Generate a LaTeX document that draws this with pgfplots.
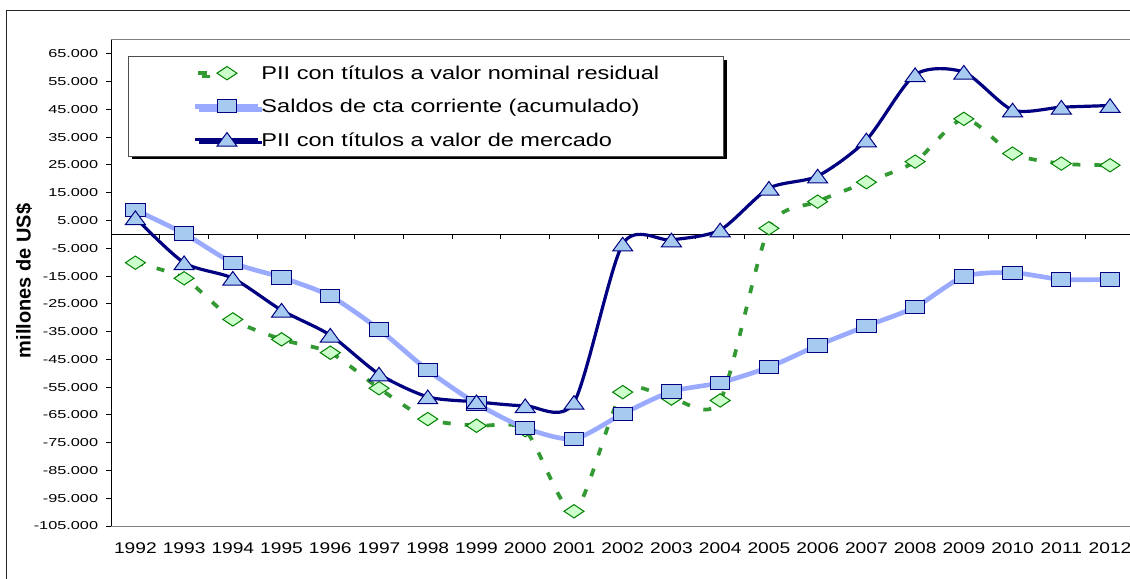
\documentclass[border=0pt]{standalone}
\usepackage{pgfplots}
\pgfplotsset{compat=1.18}
\usepackage{fontspec}
\setmainfont{Liberation Sans}
\newfontfamily\ytfont[FakeStretch=1.42]{Liberation Sans}
\newfontfamily\xtfont[FakeStretch=1.24]{Liberation Sans}
\newfontfamily\legfont[FakeStretch=1.27]{Liberation Sans}
\usetikzlibrary{shadows}
\definecolor{navy}{RGB}{0,0,128}
\definecolor{lblue}{RGB}{166,202,240}
\definecolor{peri}{RGB}{153,170,255}
\definecolor{dgreen}{RGB}{0,128,0}
\definecolor{mgreen}{RGB}{51,153,51}
\definecolor{lgreen}{RGB}{204,255,204}
\pgfplotsset{
  greenleg/.style={legend image code/.code={\draw[##1,solid] (2.25pt,0pt) -- (9pt,0pt); \draw[##1, only marks] plot coordinates {(23.6pt,0pt)}; \path (47.25pt,0pt);}},
  stdleg/.style={legend image code/.code={\draw[mark repeat=2,mark phase=2,##1] plot coordinates {(0pt,0pt) (23.6pt,0pt) (47.25pt,0pt)};}},
}
\begin{document}
\begin{tikzpicture}
\useasboundingbox (0,0) rectangle (847.5pt,433.5pt);
\draw[line width=0.75pt, black!85] (5pt,-30pt) rectangle (880pt,425.5pt);
\begin{axis}[
  at={(83.25pt,39pt)}, anchor=south west,
  width=767.55pt, height=364.5pt, scale only axis,
  xmin=1991.5, xmax=2012.5, ymin=-105000, ymax=70000,
  axis line style={draw=gray, line width=0.75pt},
  xtick={1992,1993,1994,1995,1996,1997,1998,1999,2000,2001,2002,2003,2004,2005,2006,2007,2008,2009,2010,2011,2012},
  xticklabels={1992,1993,1994,1995,1996,1997,1998,1999,2000,2001,2002,2003,2004,2005,2006,2007,2008,2009,2010,2011,2012},
  xtick pos=bottom, ytick pos=left,
  xtick style={draw=none},
  tick align=inside, major tick length=3.75pt,
  ytick style={draw=black, line width=0.75pt, xshift=-3.75pt},
  xticklabel style={font=\xtfont\fontsize{11.6}{13}\selectfont, inner sep=0pt, anchor=north, yshift=-12pt},
  ytick={-105000,-95000,-85000,-75000,-65000,-55000,-45000,-35000,-25000,-15000,-5000,5000,15000,25000,35000,45000,55000,65000},
  yticklabels={-105.000,-95.000,-85.000,-75.000,-65.000,-55.000,-45.000,-35.000,-25.000,-15.000,-5.000,5.000,15.000,25.000,35.000,45.000,55.000,65.000},
  scaled y ticks=false,
  yticklabel style={font=\ytfont\fontsize{8.6}{10}\selectfont, inner sep=0pt, anchor=east, xshift=-9.5pt},
  ylabel={millones de US\$},
  ylabel style={at={(axis description cs:-0.085,0.504)}, anchor=center, font=\bfseries\fontsize{15}{18}\selectfont},
  legend cell align=left,
  legend style={at={(0.0166,0.967)}, anchor=north west, draw=black!70, line width=0.75pt, fill=white,
    inner xsep=48.5pt, inner ysep=7.5pt, row sep=14.75pt, column sep=0.5pt,
    nodes={inner sep=0pt, text height=10pt, text depth=0pt, font=\legfont\fontsize{13.9}{16}\selectfont},
    general shadow={fill=black, shadow xshift=2.5pt, shadow yshift=-2.5pt}},
  stdleg,
]
\draw[black, line width=0.75pt] (axis cs:1991.5,0) -- (axis cs:2012.5,0);
\draw[black, line width=0.75pt] (axis cs:1991.5,-105000) -- (axis cs:1991.5,70000);
\pgfplotsinvokeforeach{1991.5,1992.5,1993.5,1994.5,1995.5,1996.5,1997.5,1998.5,1999.5,2000.5,2001.5,2002.5,2003.5,2004.5,2005.5,2006.5,2007.5,2008.5,2009.5,2010.5,2011.5,2012.5}{
  \draw[black, line width=0.75pt] (axis cs:#1,0) -- ++(0pt,-3.75pt);
}
\addplot[mgreen, line width=2.8pt, dash pattern=on 6pt off 10.5pt, smooth, tension=0.45,
  mark=diamond*, mark size=5pt, mark options={solid, draw=dgreen, fill=lgreen, line width=0.75pt, xscale=2},
  greenleg]
coordinates {
(1992,-10200) (1993,-15800) (1994,-30600) (1995,-37800) (1996,-42600) (1997,-55400) (1998,-66500)
(1999,-68900) (2000,-70500) (2001,-99700) (2002,-56800) (2003,-59100) (2004,-59800) (2005,2200)
(2006,11800) (2007,18800) (2008,26200) (2009,41600) (2010,29100) (2011,25500) (2012,24900)};
\addlegendentry{PII con títulos a valor nominal residual}
\addplot[peri, line width=3.5pt, smooth, tension=0.45,
  mark=square*, mark size=5pt, mark options={draw=navy, fill=lblue, line width=0.75pt, xscale=1.45}]
coordinates {
(1992,8800) (1993,300) (1994,-10200) (1995,-15500) (1996,-22200) (1997,-34200) (1998,-48900)
(1999,-60900) (2000,-69700) (2001,-73600) (2002,-64600) (2003,-56600) (2004,-53400) (2005,-47800)
(2006,-40000) (2007,-33000) (2008,-26200) (2009,-15200) (2010,-13800) (2011,-16200) (2012,-16200)};
\addlegendentry{Saldos de cta corriente (acumulado)}
\addplot[navy, line width=2.4pt, smooth, tension=0.45,
  mark=triangle*, mark size=6.8pt, mark options={draw=navy, fill=lblue, line width=0.75pt, yshift=-1.7pt, xscale=1.27}]
coordinates {
(1992,6000) (1993,-10200) (1994,-15800) (1995,-27300) (1996,-36300) (1997,-50300) (1998,-58500)
(1999,-60300) (2000,-61700) (2001,-60500) (2002,-3500) (2003,-2000) (2004,1600) (2005,16600)
(2006,21000) (2007,34000) (2008,57500) (2009,58400) (2010,44800) (2011,45800) (2012,46400)};
\addlegendentry{PII con títulos a valor de mercado}
\end{axis}
\end{tikzpicture}
\end{document}
